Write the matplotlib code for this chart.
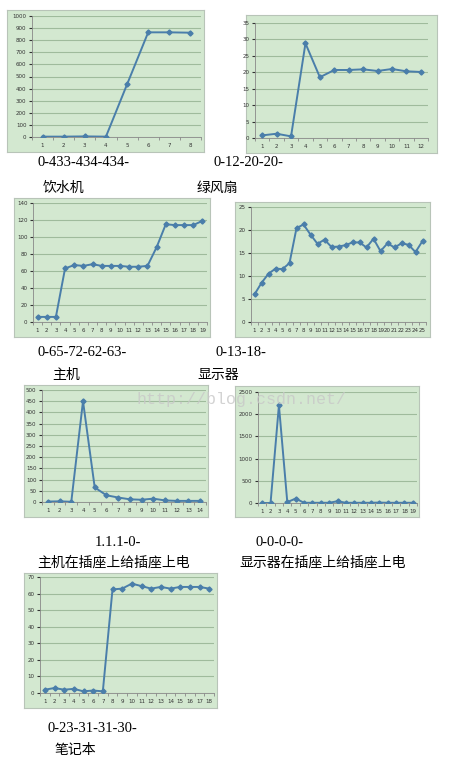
import matplotlib
matplotlib.use("Agg")
import matplotlib.pyplot as plt
import numpy as np

W, H = 469, 780

# donnees
yinshuiji = [3, 3, 5, 3, 435, 865, 865, 862]
lvfengshan = [0.8, 1.3, 0.5, 28.8, 18.5, 20.7, 20.7, 20.9, 20.4, 21.0, 20.3, 20.1]
zhuji = [6, 6, 6, 63, 67, 66, 68, 66, 66, 66, 65, 65, 66, 88, 115, 114, 114, 114, 119]
xianshiqi = [6, 8.5, 10.5, 11.6, 11.5, 12.8, 20.4, 21.2, 19, 17, 17.9, 16.3, 16.4,
             16.7, 17.3, 17.3, 16.2, 18.1, 15.4, 17.1, 16.2, 17.1, 16.8, 15.2, 17.6]
zhuji_chazuo = [2, 3, 1, 450, 65, 30, 20, 12, 10, 15, 7, 5, 5, 5]
xianshiqi_chazuo = [0, 0, 2200, 20, 100, 5, 5, 5, 5, 40, 5, 5, 5, 5, 10, 5, 5, 5, 5]
bijiben = [2, 3, 2, 2.5, 1, 1.5, 1, 62.5, 63, 66, 64.5, 63, 64, 63, 64, 64, 64, 63]

series = [yinshuiji, lvfengshan, zhuji, xianshiqi, zhuji_chazuo, xianshiqi_chazuo, bijiben]
yticks = [(0, 1000, 100), (0, 35, 5), (0, 140, 20), (0, 25, 5),
          (0, 500, 50), (0, 2500, 500), (0, 70, 10)]
codes = ["0-433-434-434-", "0-12-20-20-", "0-65-72-62-63-", "0-13-18-",
         "1.1.1-0-", "0-0-0-0-", "0-23-31-31-30-"]
noms = ["饮水机", "绿风扇", "主机", "显示器",
        "主机在插座上给插座上电", "显示器在插座上给插座上电", "笔记本"]

# position en pixels : cadre, zone de trace, legende code, legende nom
boxes = [(7, 10, 204, 152), (246, 15, 437, 153), (14, 198, 210, 337), (235, 202, 430, 337),
         (24, 385, 208, 517), (235, 386, 419, 517), (24, 573, 217, 708)]
plots = [(32, 16, 201, 137), (255, 23, 428, 138), (33, 203, 207, 322), (251, 207, 426, 322),
         (42, 390, 206, 502), (258, 392, 417, 503), (40, 577, 214, 693)]
pos_code = [(37, 163), (213, 163), (37, 353), (215, 353), (95, 542), (255, 542), (47, 728)]
pos_nom = [(43, 188), (197, 188), (52, 375), (197, 375), (37, 563), (239, 563), (55, 750)]

vert = "#d3e8d0"
bleu = "#4a7eaa"
grille = "#9fbb9c"


def px_axes(fig, x0, y0, x1, y1):
    return fig.add_axes([x0 / W, 1 - y1 / H, (x1 - x0) / W, (y1 - y0) / H])


fig = plt.figure(figsize=(W / 100, H / 100), dpi=100)

for i in range(len(series)):
    # cadre vert
    cadre = px_axes(fig, *boxes[i])
    cadre.set_facecolor(vert)
    cadre.set_xticks([])
    cadre.set_yticks([])
    for s in cadre.spines.values():
        s.set_color("#b8c4b8")
        s.set_linewidth(0.8)

    ax = px_axes(fig, *plots[i])
    ax.set_facecolor("none")
    vals = series[i]
    n = len(vals)
    x = np.arange(1, n + 1)
    ax.plot(x, vals, color=bleu, lw=1.4, marker="D", ms=2.6, zorder=3)
    y0, y1, st = yticks[i]
    ax.set_ylim(y0, y1)
    ax.set_xlim(0.5, n + 0.5)
    ax.set_yticks(np.arange(y0, y1 + st / 2, st))
    ax.yaxis.grid(True, color=grille, lw=0.8)
    ax.set_axisbelow(True)
    ax.set_xticks(x)
    ax.set_xticklabels([str(k) for k in x])
    ax.set_xticks(np.arange(0.5, n + 1), minor=True)
    ax.tick_params(axis="x", which="major", length=0, labelsize=4, pad=4, colors="#333333")
    ax.tick_params(axis="x", which="minor", length=2, color="#888888", direction="out")
    ax.tick_params(axis="y", length=2, labelsize=4, pad=2, colors="#333333")
    for k in ["top", "right"]:
        ax.spines[k].set_visible(False)
    ax.spines["left"].set_color("#888888")
    ax.spines["bottom"].set_color("#888888")
    ax.spines["left"].set_linewidth(0.6)
    ax.spines["bottom"].set_linewidth(0.6)

    cx, cy = pos_code[i]
    fig.text(cx / W, 1 - cy / H, codes[i], fontsize=10.5, ha="left", va="center",
             family=["Liberation Serif", "Noto Sans CJK SC"])
    nx, ny = pos_nom[i]
    fig.text(nx / W, 1 - ny / H, noms[i], fontsize=10, ha="left", va="center",
             family=["Noto Sans CJK SC", "DejaVu Sans"])

# filigrane
fig.text(137 / W, 1 - 400 / H, "http://blog.csdn.net/", fontsize=12, ha="left", va="center",
         family="Liberation Mono", color="#c8c8c8", alpha=0.8, zorder=10)

fig.savefig("out.png", dpi=100)
